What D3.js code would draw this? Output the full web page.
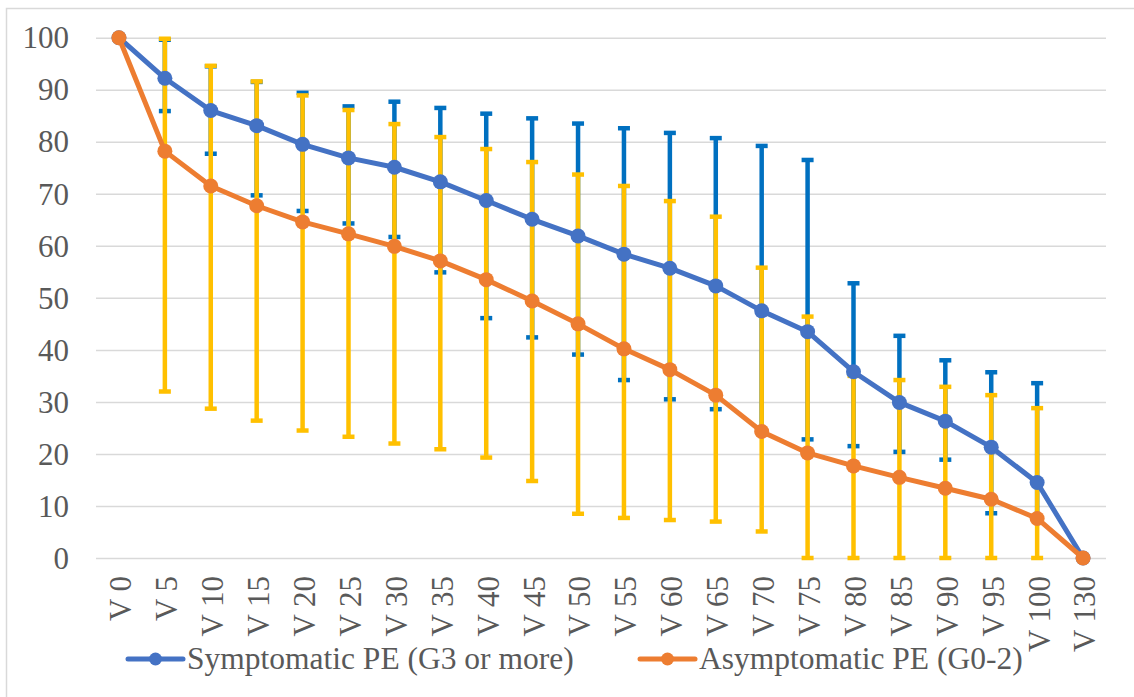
<!DOCTYPE html>
<html>
<head>
<meta charset="utf-8">
<script src="https://cdn.jsdelivr.net/npm/d3@7"></script>
<style>
  html, body { margin: 0; padding: 0; background: #fff; }
  svg { display: block; }
</style>
</head>
<body>
<svg id="chart" width="1134" height="697"></svg>
<script>
const categories = ["V 0","V 5","V 10","V 15","V 20","V 25","V 30","V 35","V 40","V 45","V 50","V 55","V 60","V 65","V 70","V 75","V 80","V 85","V 90","V 95","V 100","V 130"];
const symptomatic = [100,92.2,86.0,83.1,79.5,76.9,75.1,72.3,68.7,65.1,61.9,58.4,55.7,52.3,47.5,43.5,35.8,29.9,26.3,21.3,14.5,0];
const asymptomatic = [100,78.2,71.5,67.7,64.6,62.3,59.9,57.1,53.5,49.4,45.0,40.2,36.2,31.3,24.3,20.2,17.7,15.5,13.4,11.3,7.6,0];
// error bar extents (low, high), null where none
const symptomaticLow  = [null,85.9,77.7,69.7,66.7,64.3,61.7,54.9,46.1,42.4,39.1,34.2,30.5,28.6,24.3,22.8,21.5,20.4,18.9,8.6,7.5,null];
const symptomaticHigh = [null,99.6,94.5,91.5,89.4,86.8,87.7,86.5,85.4,84.5,83.5,82.6,81.7,80.7,79.2,76.5,52.8,42.7,38.0,35.7,33.6,null];
const asymptomaticLow  = [null,32.0,28.7,26.4,24.5,23.3,22.0,20.9,19.3,14.8,8.5,7.7,7.3,7.0,5.1,0,0,0,0,0,0,null];
const asymptomaticHigh = [null,99.8,94.6,91.6,88.9,86.1,83.4,80.9,78.6,76.1,73.7,71.5,68.6,65.6,55.8,46.4,35.0,34.2,32.9,31.3,28.8,null];
const yTicks = [0,10,20,30,40,50,60,70,80,90,100];
const seriesNames = ["Symptomatic PE (G3 or more)", "Asymptomatic PE (G0-2)"];

const FONT = "Liberation Serif";
const TEXT = "#595959";
const svg = d3.select("#chart");
const plot = {left: 96, right: 1106, top: 37.7, bottom: 558};

// chart border
svg.append("rect").attr("x", 6.5).attr("y", 8.5).attr("width", 1140).attr("height", 700)
  .attr("fill", "none").attr("stroke", "#D9D9D9").attr("stroke-width", 1.5);

const x = d3.scaleBand().domain(categories).range([plot.left, plot.right]);
const y = d3.scaleLinear().domain([0, 100]).range([plot.bottom, plot.top]);
const cx = c => x(c) + x.bandwidth() / 2;

// gridlines + y labels
const yAxis = d3.axisLeft(y).tickValues(yTicks).tickSize(-(plot.right - plot.left)).tickPadding(27).tickFormat(d3.format("d"));
const gy = svg.append("g").attr("transform", `translate(${plot.left},0)`).call(yAxis).attr("font-family", FONT);
gy.select(".domain").remove();
gy.selectAll(".tick line").attr("stroke", "#D9D9D9").attr("stroke-width", 1.5);
gy.selectAll(".tick text").attr("font-size", 31).attr("font-family", FONT).attr("dy", "0.33em").attr("fill", TEXT);

// x axis labels
const xAxis = d3.axisBottom(x).tickSize(0).tickPadding(0);
const gx = svg.append("g").attr("transform", `translate(0,${plot.bottom})`).call(xAxis).attr("font-family", FONT);
gx.select(".domain").remove();
gx.selectAll(".tick text")
  .attr("font-size", 31)
  .attr("font-family", FONT)
  .attr("text-anchor", "end")
  .attr("transform", "rotate(-90)")
  .attr("x", -18)
  .attr("y", 0)
  .attr("dy", "0.40em")
  .attr("fill", TEXT);

// error bars
function errorBars(low, high, color) {
  const g = svg.append("g");
  const idx = categories.map((c, i) => i).filter(i => low[i] !== null);
  g.selectAll("line.bar").data(idx).join("line").attr("class", "bar")
    .attr("x1", i => cx(categories[i])).attr("x2", i => cx(categories[i]))
    .attr("y1", i => y(low[i])).attr("y2", i => y(high[i]))
    .attr("stroke", color).attr("stroke-width", 4.5);
  const caps = [];
  idx.forEach(i => { caps.push([i, low[i]]); caps.push([i, high[i]]); });
  g.selectAll("line.cap").data(caps).join("line").attr("class", "cap")
    .attr("x1", d => cx(categories[d[0]]) - 6).attr("x2", d => cx(categories[d[0]]) + 6)
    .attr("y1", d => y(d[1])).attr("y2", d => y(d[1]))
    .attr("stroke", color).attr("stroke-width", 4.5);
}
errorBars(symptomaticLow, symptomaticHigh, "#0070C0");
errorBars(asymptomaticLow, asymptomaticHigh, "#FFC000");

// lines
function series(vals, color) {
  const g = svg.append("g");
  const line = d3.line().x((d, i) => cx(categories[i])).y(d => y(d));
  g.append("path").datum(vals).attr("d", line).attr("fill", "none")
    .attr("stroke", color).attr("stroke-width", 5).attr("stroke-linejoin", "round");
  g.selectAll("circle").data(vals).join("circle")
    .attr("cx", (d, i) => cx(categories[i])).attr("cy", d => y(d)).attr("r", 7.5)
    .attr("fill", color);
}
series(symptomatic, "#4472C4");
series(asymptomatic, "#ED7D31");

// legend
const legend = [
  {name: seriesNames[0], color: "#4472C4", x1: 128, x2: 183, tx: 187},
  {name: seriesNames[1], color: "#ED7D31", x1: 640, x2: 695, tx: 699}
];
const lg = svg.append("g");
legend.forEach(l => {
  lg.append("line").attr("x1", l.x1).attr("x2", l.x2).attr("y1", 659).attr("y2", 659)
    .attr("stroke", l.color).attr("stroke-width", 5).attr("stroke-linecap", "round");
  lg.append("circle").attr("cx", (l.x1 + l.x2) / 2).attr("cy", 659).attr("r", 6.5).attr("fill", l.color);
  lg.append("text").attr("x", l.tx).attr("y", 669).attr("font-size", 31.5).attr("font-family", FONT)
    .attr("fill", TEXT).text(l.name);
});
</script>
</body>
</html>
